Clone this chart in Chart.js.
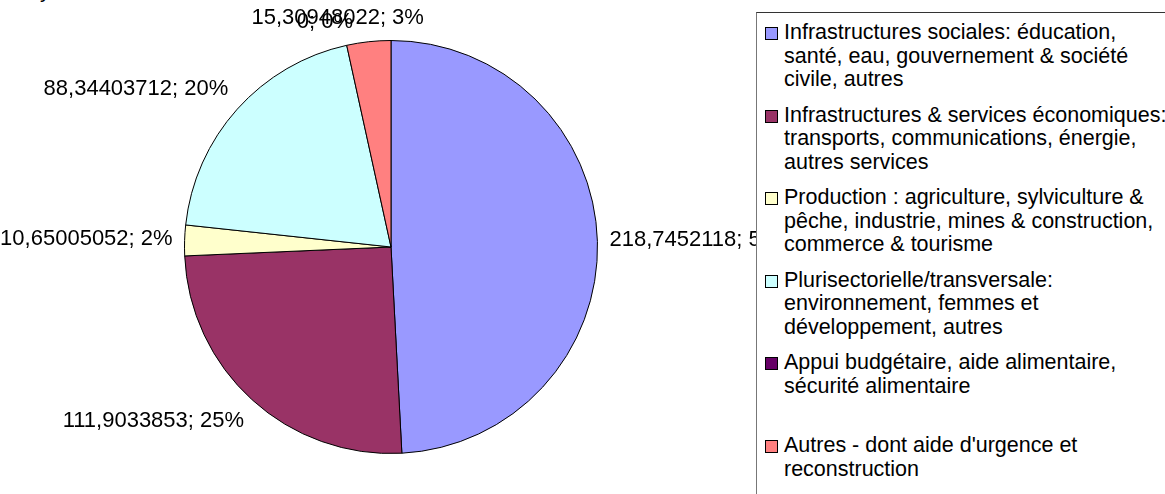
<!DOCTYPE html>
<html>
<head>
<meta charset="utf-8">
<script src="https://cdn.jsdelivr.net/npm/chart.js@4.4.1/dist/chart.umd.min.js"></script>
<style>
  html, body { margin: 0; padding: 0; background: #fff; overflow: hidden; }
  body { width: 1165px; height: 494px; position: relative; font-family: "Liberation Sans", Arial, sans-serif; }
  #pieChart { position: absolute; left: 0; top: 0; }
  .stray { position: absolute; left: 40px; top: -20px; font-size: 21px; line-height: 21px; color: #000; }
  #legend {
    position: absolute; left: 756px; top: 12px; width: 420px; height: 500px;
    background: #fff; border-top: 1px solid #333; border-left: 1px solid #777;
    box-sizing: border-box; font-size: 21.5px; line-height: 23.5px; color: #000;
  }
  .item { position: absolute; left: 27px; white-space: nowrap; }
  .swatch { position: absolute; left: -19px; top: 6px; width: 11px; height: 11px; border: 1px solid #000; }
</style>
</head>
<body>
<div class="stray">y</div>
<canvas id="pieChart" width="1165" height="494"></canvas>
<div id="legend"></div>
<script>
// Sectors (legend text, line breaks as in the original legend)
const categories = [
  'Infrastructures sociales: éducation,\nsanté, eau, gouvernement & société\ncivile, autres',
  'Infrastructures & services économiques:\ntransports, communications, énergie,\nautres services',
  'Production : agriculture, sylviculture &\npêche, industrie, mines & construction,\ncommerce & tourisme',
  'Plurisectorielle/transversale:\nenvironnement, femmes et\ndéveloppement, autres',
  'Appui budgétaire, aide alimentaire,\nsécurité alimentaire',
  'Autres - dont aide d\'urgence et\nreconstruction'
];
const values = [218.7452118, 111.9033853, 10.65005052, 88.34403712, 0, 15.30948022];
const valueLabels = ['218,7452118', '111,9033853', '10,65005052', '88,34403712', '0', '15,30948022'];
const percentLabels = ['50%', '25%', '2%', '20%', '0%', '3%'];
const colors = ['#9999FF', '#993366', '#FFFFCC', '#CCFFFF', '#660066', '#FF8080'];

// Outside labels "value; percent"
const outsideLabels = {
  id: 'outsideLabels',
  afterDatasetsDraw(chart) {
    const ctx = chart.ctx;
    const meta = chart.getDatasetMeta(0);
    ctx.save();
    ctx.font = '22px "Liberation Sans", Arial, sans-serif';
    ctx.fillStyle = '#000';
    ctx.textAlign = 'left';
    ctx.textBaseline = 'middle';
    const h = 24;
    meta.data.forEach((arc, i) => {
      const p = arc.getProps(['x', 'y', 'startAngle', 'endAngle', 'outerRadius'], true);
      const mid = (p.startAngle + p.endAngle) / 2;
      const dx = Math.cos(mid), dy = Math.sin(mid);
      const ax = p.x + (p.outerRadius + 12) * dx;
      const ay = p.y + (p.outerRadius + 12) * dy;
      const text = valueLabels[i] + '; ' + percentLabels[i];
      const w = ctx.measureText(text).width;
      const fx = Math.min(1, Math.max(0, 0.5 - dx * 1.6));
      const fy = Math.min(1, Math.max(0, 0.5 - dy * 2));
      ctx.fillText(text, ax - fx * w, ay - fy * h + h / 2);
    });
    ctx.restore();
  }
};

new Chart(document.getElementById('pieChart'), {
  type: 'pie',
  data: {
    labels: categories,
    datasets: [{
      data: values,
      backgroundColor: colors,
      borderColor: '#000',
      borderWidth: 1
    }]
  },
  options: {
    responsive: false,
    animation: false,
    layout: { padding: { left: 184, right: 567, top: 40, bottom: 40 } },
    plugins: {
      legend: { display: false },
      tooltip: { enabled: false }
    }
  },
  plugins: [outsideLabels]
});

// HTML legend
const legendEl = document.getElementById('legend');
categories.forEach((name, i) => {
  const item = document.createElement('div');
  item.className = 'item';
  item.style.top = (8 + i * 82.6) + 'px';
  item.innerHTML = `<span class="swatch" style="background:${colors[i]}"></span>` + name.split('\n').join('<br>');
  legendEl.appendChild(item);
});
</script>
</body>
</html>
